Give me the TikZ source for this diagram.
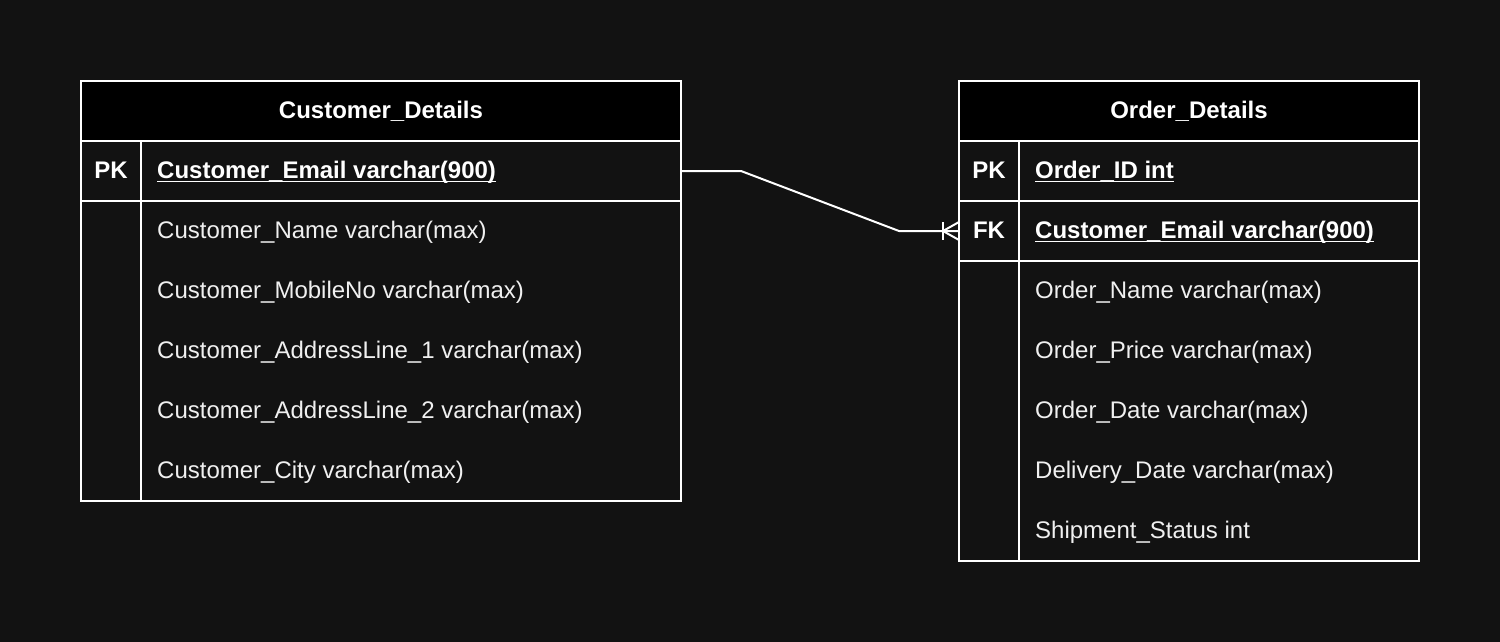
\documentclass[tikz,border=0pt]{standalone}
\usepackage{fontspec}
\setmainfont{Liberation Sans}
\definecolor{bgc}{HTML}{121212}
\definecolor{txc}{HTML}{F0F0F0}
\tikzset{
  cell/.style={draw=white, line width=2pt, rectangle, inner sep=0pt, outer sep=0pt, anchor=north west, fill=bgc},
  headcell/.style={cell, fill=black},
  rowtxt/.style={text=txc, font=\fontsize{24}{28}\selectfont, inner sep=0pt, anchor=base west},
  boldtxt/.style={text=white, font=\fontsize{24}{28}\selectfont\bfseries, inner sep=0pt},
  uline/.style={draw=white, line width=1.8pt},
  conn/.style={draw=white, line width=2pt, line join=round}
}
\begin{document}
\begin{tikzpicture}[x=1pt,y=-1pt]
\useasboundingbox (0,0) rectangle (1500,642);
\fill[bgc] (0,0) rectangle (1500,642);

% ---------- Customer_Details ----------
\node[cell, minimum width=600pt, minimum height=300pt] (cBody) at (81,201) {};
\node[cell, minimum width=60pt, minimum height=300pt] (cBodyKey) at (81,201) {};
\node[cell, minimum width=60pt, minimum height=60pt] (cPKkey) at (81,141) {};
\node[cell, minimum width=540pt, minimum height=60pt] (cPK) at (141,141) {};
\node[headcell, minimum width=600pt, minimum height=60pt] (cHead) at (81,81) {};

\node[boldtxt, anchor=base] (cTitle) at (381,118) {Customer\_Details};
\node[boldtxt, anchor=base] (cPKlab) at (111,178) {PK};
\node[boldtxt, anchor=base west] (cPKtxt) at (157,178) {Customer\_Email varchar(900)};
\draw[uline] ([yshift=-3.5pt]cPKtxt.base west) -- ([yshift=-3.5pt]cPKtxt.base east);
\node[rowtxt] (c1) at (157,238) {Customer\_Name varchar(max)};
\node[rowtxt] (c2) at (157,298) {Customer\_MobileNo varchar(max)};
\node[rowtxt] (c3) at (157,358) {Customer\_AddressLine\_1 varchar(max)};
\node[rowtxt] (c4) at (157,418) {Customer\_AddressLine\_2 varchar(max)};
\node[rowtxt] (c5) at (157,478) {Customer\_City varchar(max)};

% ---------- Order_Details ----------
\node[cell, minimum width=460pt, minimum height=300pt] (oBody) at (959,261) {};
\node[cell, minimum width=60pt, minimum height=300pt] (oBodyKey) at (959,261) {};
\node[cell, minimum width=60pt, minimum height=60pt] (oPKkey) at (959,141) {};
\node[cell, minimum width=400pt, minimum height=60pt] (oPK) at (1019,141) {};
\node[cell, minimum width=60pt, minimum height=60pt] (oFKkey) at (959,201) {};
\node[cell, minimum width=400pt, minimum height=60pt] (oFK) at (1019,201) {};
\node[headcell, minimum width=460pt, minimum height=60pt] (oHead) at (959,81) {};

\node[boldtxt, anchor=base] (oTitle) at (1189,118) {Order\_Details};
\node[boldtxt, anchor=base] (oPKlab) at (989,178) {PK};
\node[boldtxt, anchor=base west] (oPKtxt) at (1035,178) {Order\_ID int};
\draw[uline] ([yshift=-3.5pt]oPKtxt.base west) -- ([yshift=-3.5pt]oPKtxt.base east);
\node[boldtxt, anchor=base] (oFKlab) at (989,238) {FK};
\node[boldtxt, anchor=base west] (oFKtxt) at (1035,238) {Customer\_Email varchar(900)};
\draw[uline] ([yshift=-3.5pt]oFKtxt.base west) -- ([yshift=-3.5pt]oFKtxt.base east);
\node[rowtxt] (o1) at (1035,298) {Order\_Name varchar(max)};
\node[rowtxt] (o2) at (1035,358) {Order\_Price varchar(max)};
\node[rowtxt] (o3) at (1035,418) {Order\_Date varchar(max)};
\node[rowtxt] (o4) at (1035,478) {Delivery\_Date varchar(max)};
\node[rowtxt] (o5) at (1035,538) {Shipment\_Status int};

% ---------- relationship ----------
\coordinate (bendA) at (741,171);
\coordinate (bendB) at (899,231);
\draw[conn] (cPK.east) -- (bendA) -- (bendB) -- (oFKkey.west);
\draw[conn] ([xshift=-16pt,yshift=9pt]oFKkey.west) -- ([xshift=-16pt,yshift=-9pt]oFKkey.west);
\draw[conn] ([yshift=9pt]oFKkey.west) -- ([xshift=-16pt]oFKkey.west) -- ([yshift=-9pt]oFKkey.west);
\end{tikzpicture}
\end{document}
